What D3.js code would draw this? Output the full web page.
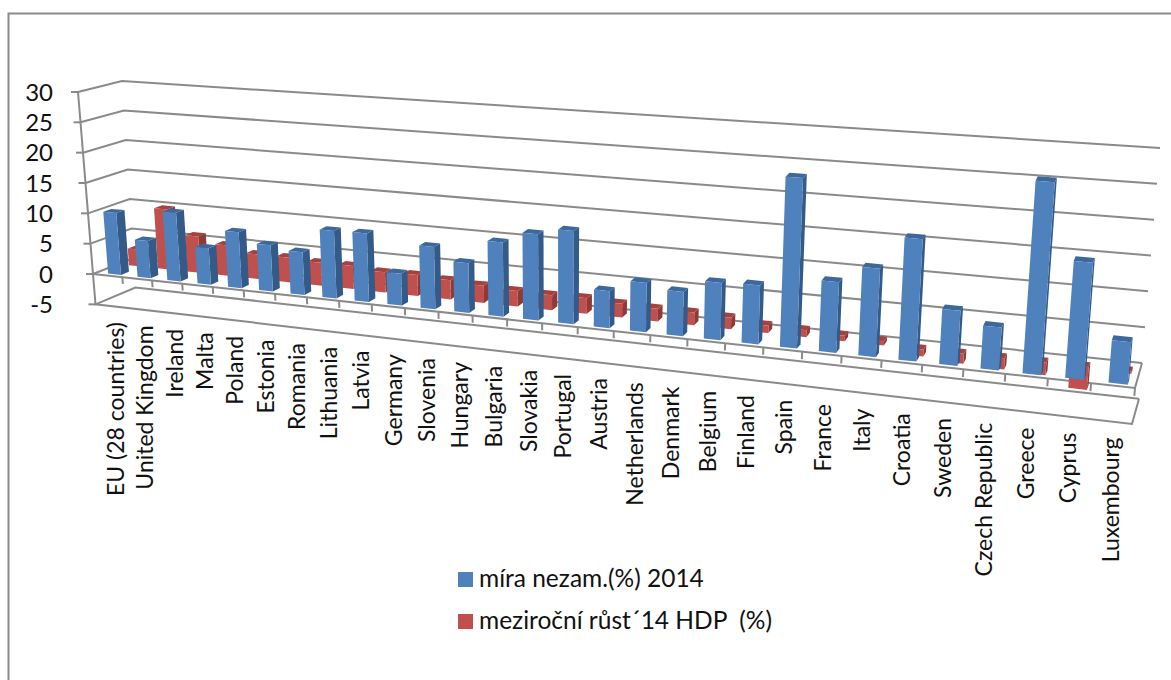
<!DOCTYPE html>
<meta charset="utf-8">
<style>
  body { margin: 0; background: #fff; }
  text { font-family: Lato, "Open Sans", sans-serif; fill: #111; }
  .grid { fill: none; stroke: #8a8a8a; stroke-width: 2; }
  .tickLabel { font-size: 24px; text-anchor: end; }
  .catLabel { font-size: 23px; text-anchor: end; }
  .legendLabel { font-size: 24.5px; }
</style>
<svg width="1171" height="680"></svg>
<script src="https://d3js.org/d3.v7.min.js"></script>
<script>

var categories = ['EU (28 countries)', 'United Kingdom', 'Ireland', 'Malta', 'Poland', 'Estonia', 'Romania',
  'Lithuania', 'Latvia', 'Germany', 'Slovenia', 'Hungary', 'Bulgaria', 'Slovakia', 'Portugal', 'Austria',
  'Netherlands', 'Denmark', 'Belgium', 'Finland', 'Spain', 'France', 'Italy', 'Croatia', 'Sweden',
  'Czech Republic', 'Greece', 'Cyprus', 'Luxembourg'];
var unemployment = [10.2, 6.1, 11.2, 5.9, 9.0, 7.4, 6.8, 10.7, 10.8, 5.0, 9.7, 7.7, 11.4, 13.2, 14.2, 5.6,
  7.4, 6.6, 8.5, 8.7, 25.0, 10.3, 12.8, 17.6, 7.9, 6.1, 27.2, 16.4, 5.9];
var growth = [2.8, 10.0, 6.0, 5.0, 4.0, 4.0, 3.7, 3.7, 3.2, 3.3, 3.0, 2.7, 2.4, 2.3, 2.4, 2.1,
  1.9, 1.9, 1.7, 1.1, 1.0, 0.8, 0.6, -1.0, -1.4, -1.6, -1.8, -3.2, -0.3];
var valueTicks = [-5, 0, 5, 10, 15, 20, 25, 30];
var seriesNames = ['míra nezam.(%) 2014', 'meziroční růst´14 HDP  (%)'];
var seriesColors = [
  {front: '#4f81bd', side: '#345a88', top: '#3c689c'},
  {front: '#c0504d', side: '#8e3a38', top: '#a5423f'}
];

var svg = d3.select('svg');

// outer frame
svg.append('path').attr('class', 'grid').attr('d', 'M8.5,680V13.5H1171');

// the box is four vertical edges, each one a pair of scales on the value axis
function edge(x0, x1, y0, y1) {
  return {
    x: d3.scaleLinear().domain([0, 30]).range([x0, x1]),
    y: d3.scaleLinear().domain([0, 30]).range([y0, y1])
  };
}
var frontLeft = edge(93, 78, 274, 92);
var frontRight = edge(1135, 1153, 388, 172);
var backLeft = edge(133.5, 122, 258, 81);
var backRight = edge(1142, 1160, 363, 148);

// perspective along the category axis
var catScale = d3.scaleLinear().domain([0, categories.length]).range([0, 1]);
var persp = 1.232;
function warp(t) {
  var s = catScale(t);
  return s / (s + (1 - s) * persp);
}

// t = position along categories, d = depth 0..1, v = value
function project(t, d, v) {
  var u = warp(t);
  var fx = d3.interpolateNumber(frontLeft.x(v), frontRight.x(v))(u);
  var fy = d3.interpolateNumber(frontLeft.y(v), frontRight.y(v))(u);
  var bx = d3.interpolateNumber(backLeft.x(v), backRight.x(v))(u);
  var by = d3.interpolateNumber(backLeft.y(v), backRight.y(v))(u);
  return [fx + (bx - fx) * d, fy + (by - fy) * d];
}

var line = d3.line();
var n = categories.length;

function poly(g, pts, fill) {
  g.append('path').attr('d', line(pts) + 'Z').attr('fill', fill);
}

// gridlines on the walls
var grid = svg.append('g').attr('class', 'grid');
valueTicks.forEach(function(v) {
  grid.append('path').attr('d', line([project(0, 0, v), project(0, 1, v), project(n, 1, v)]));
  var p = project(0, 0, v);
  grid.append('path').attr('d', line([[p[0] - 7, p[1]], p]));
  svg.append('text').attr('class', 'tickLabel')
    .attr('x', 53).attr('y', p[1]).attr('dy', '0.36em').text(v);
});
grid.append('path').attr('d', line([project(0, 0, 30), project(0, 0, -5), project(n, 0, -5), project(n, 1, -5)]));
grid.append('path').attr('d', line([project(0, 0, 0), project(n, 0, 0), project(n, 1, 0)]));
d3.range(1, n + 1).forEach(function(t) {
  grid.append('path').attr('d', line([project(t, 0, 0), project(t, 0, -1.1)]));
});

// a 3d column
function column(g, i, value, d0, d1, colors) {
  var t0 = i + 0.38, t1 = i + 0.82;
  var hi = Math.max(value, 0), lo = Math.min(value, 0);
  poly(g, [project(t1, d0, lo), project(t1, d1, lo), project(t1, d1, hi), project(t1, d0, hi)], colors.side);
  poly(g, [project(t0, d0, hi), project(t1, d0, hi), project(t1, d1, hi), project(t0, d1, hi)], colors.top);
  poly(g, [project(t0, d0, lo), project(t1, d0, lo), project(t1, d0, hi), project(t0, d0, hi)], colors.front);
}

var redBars = svg.append('g');
growth.forEach(function(v, i) { column(redBars, i, v, 0.62, 0.82, seriesColors[1]); });
var blueBars = svg.append('g');
unemployment.forEach(function(v, i) { column(blueBars, i, v, 0.1, 0.3, seriesColors[0]); });

// category labels
categories.forEach(function(c, i) {
  var p = project(i + 0.5, 0, -5);
  var shift = 14 - 5 * catScale(i);
  svg.append('text').attr('class', 'catLabel')
    .attr('transform', 'translate(' + (p[0] + shift) + ',' + (p[1] + 16) + ') rotate(-90)')
    .text(c);
});

// legend
var legendY = d3.scaleLinear().domain([0, 1]).range([572, 614]);
seriesNames.forEach(function(name, i) {
  svg.append('rect').attr('x', 458).attr('y', legendY(i)).attr('width', 15).attr('height', 15)
    .attr('fill', seriesColors[i].front);
  svg.append('text').attr('class', 'legendLabel').attr('xml:space', 'preserve').style('white-space', 'pre')
    .attr('x', 479).attr('y', legendY(i) + 15).text(name);
});

</script>
